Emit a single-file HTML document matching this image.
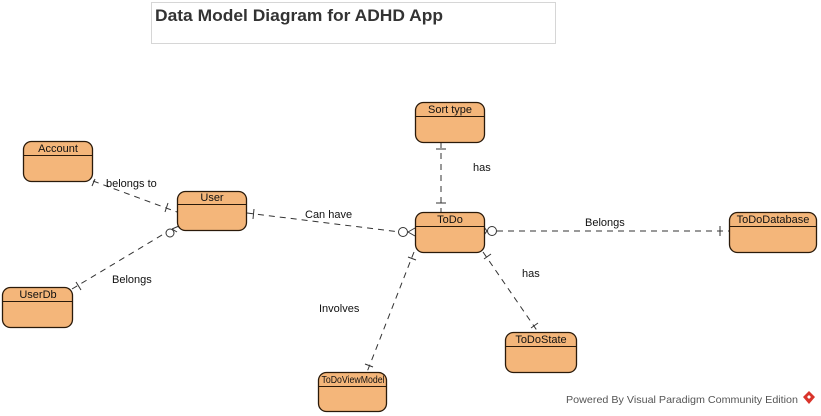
<!DOCTYPE html>
<html><head><meta charset="utf-8"><style>
html,body{margin:0;padding:0;background:#fff;width:821px;height:416px;overflow:hidden}
svg{display:block}
text{font-family:"Liberation Sans","DejaVu Sans",sans-serif}
</style></head><body>
<svg width="821" height="416" viewBox="0 0 821 416" xmlns="http://www.w3.org/2000/svg">
<rect x="151.5" y="2.5" width="404" height="41" fill="#fff" stroke="#d6d6d6"/>
<text x="155" y="21" font-size="17" font-weight="bold" fill="#333" textLength="288" lengthAdjust="spacingAndGlyphs">Data Model Diagram for ADHD App</text>

<g stroke="#333" stroke-width="1" fill="none" stroke-dasharray="6,5">
<line x1="93" y1="181" x2="177" y2="212"/>
<line x1="72" y1="289" x2="172" y2="229"/>
<line x1="247" y1="213" x2="400" y2="232"/>
<line x1="441" y1="142" x2="441" y2="212"/>
<line x1="497" y1="231" x2="729" y2="231"/>
<line x1="483" y1="252" x2="538" y2="332"/>
<line x1="414" y1="252" x2="367" y2="372"/>
</g>
<g stroke="#333" stroke-width="1" fill="#fff">
<line x1="95" y1="179" x2="92" y2="186"/>
<line x1="168" y1="203" x2="165" y2="212"/>
<line x1="76" y1="282" x2="81" y2="290"/>
<circle cx="170" cy="233" r="4"/>
<line x1="172" y1="229" x2="179" y2="226"/>
<line x1="172" y1="229" x2="177" y2="232"/>
<line x1="254" y1="209" x2="253" y2="219"/>
<circle cx="403" cy="232" r="4.5"/>
<line x1="408" y1="232" x2="415" y2="228"/>
<line x1="408" y1="232" x2="415" y2="236"/>
<line x1="436" y1="149" x2="446" y2="149"/>
<line x1="436" y1="203" x2="446" y2="203"/>
<circle cx="492" cy="231" r="4.5"/>
<line x1="487" y1="231" x2="484" y2="227"/>
<line x1="487" y1="231" x2="484" y2="235"/>
<line x1="720" y1="226" x2="720" y2="236"/>
<line x1="484" y1="259" x2="491" y2="254"/>
<line x1="531" y1="328" x2="538" y2="323"/>
<line x1="408" y1="257" x2="416" y2="260"/>
<line x1="365" y1="364" x2="373" y2="367"/>
</g>

<g stroke="#2a1a0a" stroke-width="1.3" fill="#f4b67a">
<rect x="23.5" y="141.5" width="69" height="40" rx="8"/>
<rect x="177.5" y="191.5" width="69" height="39" rx="8"/>
<rect x="2.5" y="287.5" width="70" height="40" rx="8"/>
<rect x="415.5" y="102.5" width="69" height="40" rx="8"/>
<rect x="415.5" y="212.5" width="69" height="40" rx="8"/>
<rect x="729.5" y="212.5" width="87" height="40" rx="8"/>
<rect x="505.5" y="332.5" width="71" height="40" rx="8"/>
<rect x="318.5" y="372.5" width="68" height="39" rx="8"/>
</g>
<g stroke="#2a1a0a" stroke-width="1">
<line x1="24" y1="155.5" x2="92" y2="155.5"/>
<line x1="178" y1="204.5" x2="246" y2="204.5"/>
<line x1="3" y1="301.5" x2="72" y2="301.5"/>
<line x1="416" y1="116.5" x2="484" y2="116.5"/>
<line x1="416" y1="226.5" x2="484" y2="226.5"/>
<line x1="730" y1="226.5" x2="816" y2="226.5"/>
<line x1="506" y1="346.5" x2="576" y2="346.5"/>
<line x1="319" y1="386.5" x2="386" y2="386.5"/>
</g>
<g font-size="11" fill="#111" text-anchor="middle">
<text x="58" y="152">Account</text>
<text x="212" y="201">User</text>
<text x="38" y="298">UserDb</text>
<text x="450" y="113">Sort type</text>
<text x="450" y="223">ToDo</text>
<text x="773" y="223">ToDoDatabase</text>
<text x="541" y="343">ToDoState</text>
<text x="353" y="383" font-size="10" textLength="63" lengthAdjust="spacingAndGlyphs">ToDoViewModel</text>
</g>
<g font-size="11" fill="#111">
<text x="106" y="187">belongs to</text>
<text x="112" y="283">Belongs</text>
<text x="305" y="218">Can have</text>
<text x="473" y="171">has</text>
<text x="585" y="226">Belongs</text>
<text x="522" y="277">has</text>
<text x="319" y="312">Involves</text>
</g>
<text x="566" y="403" font-size="10.5" fill="#555" textLength="232" lengthAdjust="spacingAndGlyphs">Powered By Visual Paradigm Community Edition</text>
<polygon points="809,391 815,397 809,404 803,397" fill="#d9342b"/>
<polygon points="809,395 811,397 809,399 807,397" fill="#fff"/>
</svg>
</body></html>
